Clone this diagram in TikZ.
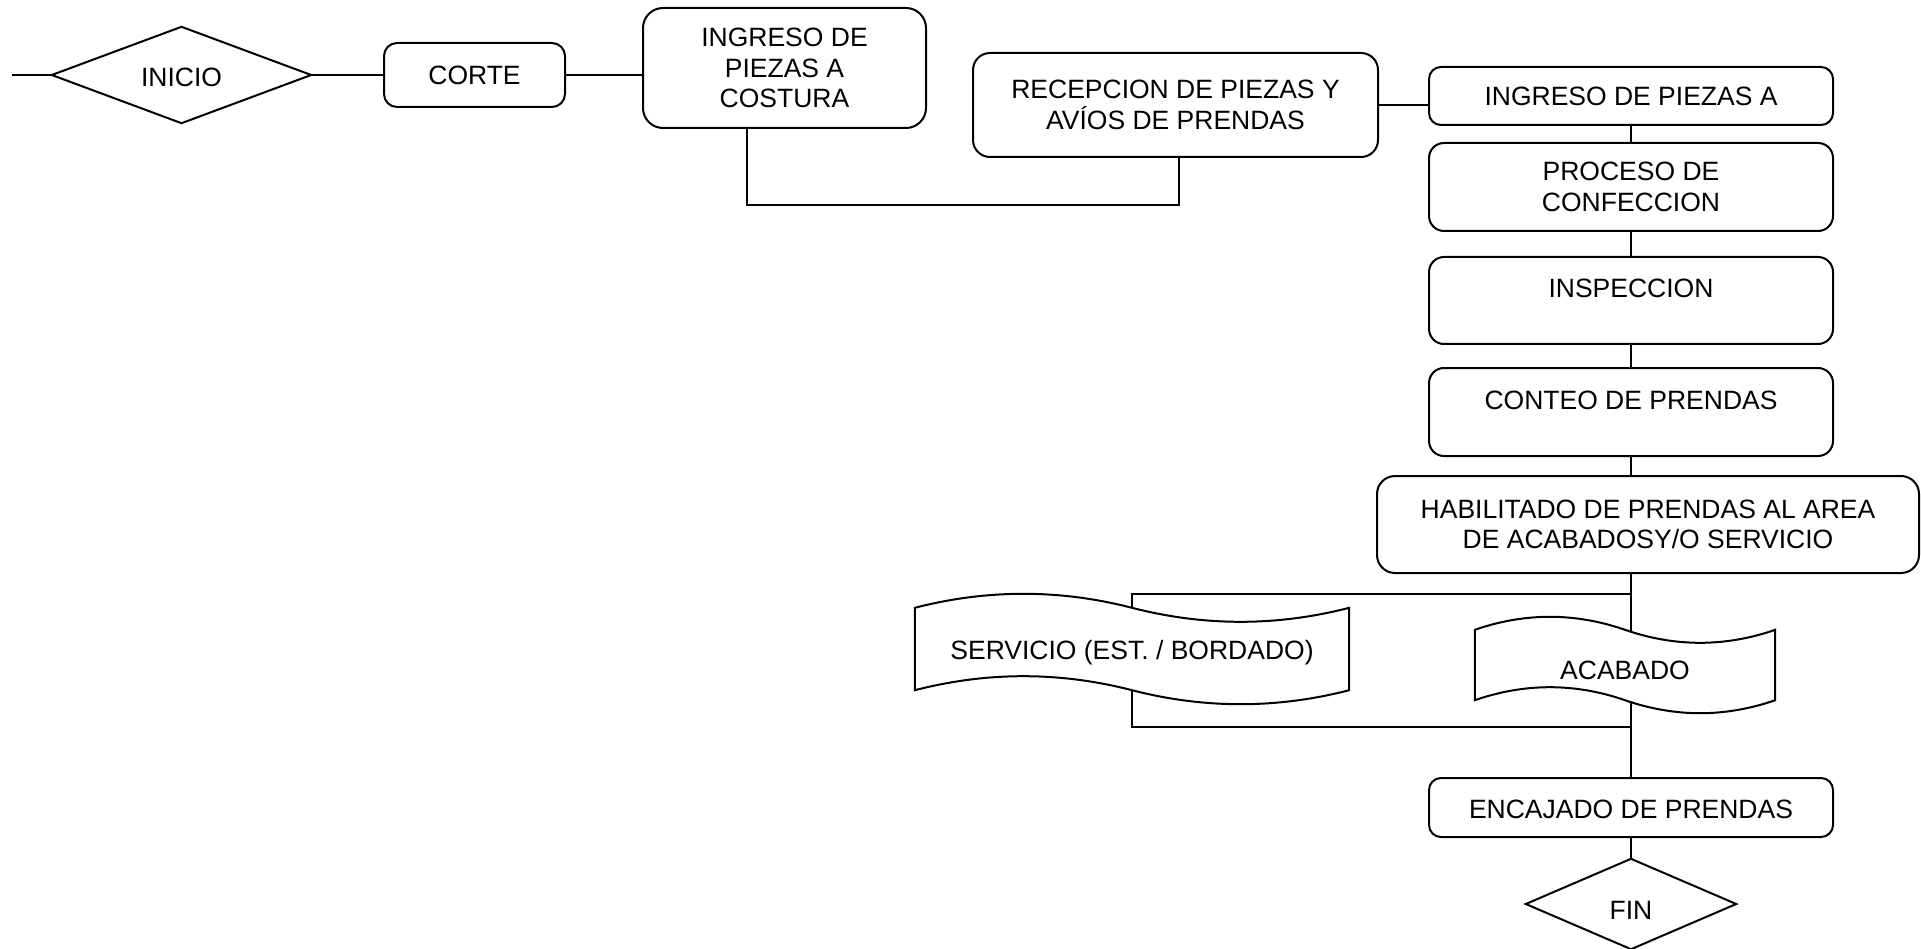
\documentclass[tikz,border=0pt]{standalone}
\usepackage{fontspec}
\setmainfont{Liberation Sans}
\usetikzlibrary{calc}
\pgfdeclarelayer{bg}
\pgfdeclarelayer{mid}
\pgfsetlayers{bg,mid,main}

\tikzset{
  flow/.style={line width=2pt, draw=black},
  procbox/.style={flow, rounded corners=#1, fill=white, inner sep=0pt, align=center},
  procbox/.default=15pt,
  tiptext/.style={inner sep=0pt, align=center},
  tapeline/.style={flow, fill=white},
}

% wavy (tape) outline around a named node: #1 node, #2 wave amplitude in pt
\newcommand\wavyoutline[2]{%
  \path[tapeline] let \p1=(#1.north west), \p2=(#1.south east),
    \n1={(\x2-\x1)/6}, \n2={4*#2/3} in
    (\x1,\y1)
    .. controls ({\x1+\n1*1pt},{\y1+\n2*1pt}) and ({\x1+2*\n1*1pt},{\y1+\n2*1pt}) .. ({\x1+3*\n1*1pt},\y1)
    .. controls ({\x1+4*\n1*1pt},{\y1-\n2*1pt}) and ({\x1+5*\n1*1pt},{\y1-\n2*1pt}) .. (\x2,\y1)
    -- (\x2,\y2)
    .. controls ({\x1+5*\n1*1pt},{\y2-\n2*1pt}) and ({\x1+4*\n1*1pt},{\y2-\n2*1pt}) .. ({\x1+3*\n1*1pt},\y2)
    .. controls ({\x1+2*\n1*1pt},{\y2+\n2*1pt}) and ({\x1+\n1*1pt},{\y2+\n2*1pt}) .. (\x1,\y2)
    -- cycle;}

\begin{document}
\begin{tikzpicture}[x=1pt, y=-1pt, font=\fontsize{26.5pt}{30.5pt}\selectfont]
\useasboundingbox (0,0) rectangle (1921,949);

% process steps
\node[tiptext, minimum width=259pt, minimum height=96pt, text height=23pt] (inicio) at (181.5,75) {INICIO};
\node[procbox=13pt, minimum width=181pt, minimum height=64pt] (corte) at (474.5,75) {CORTE};
\node[procbox=20pt, minimum width=283pt, minimum height=120pt] (costura) at (784.5,68) {INGRESO DE\\PIEZAS A\\COSTURA};
\node[procbox=17pt, minimum width=405pt, minimum height=104pt] (recep) at (1175.5,105) {RECEPCION DE PIEZAS Y\\AVÍOS DE PRENDAS};
\node[procbox=12pt, minimum width=404pt, minimum height=58pt] (ingA) at (1631,96) {INGRESO DE PIEZAS A};
\node[procbox=15pt, minimum width=404pt, minimum height=88pt] (proc) at (1631,187) {PROCESO DE\\CONFECCION};
\node[procbox=15pt, minimum width=404pt, minimum height=87pt, text depth=24pt] (insp) at (1631,300.5) {INSPECCION};
\node[procbox=15pt, minimum width=404pt, minimum height=88pt, text depth=24pt] (conteo) at (1631,412) {CONTEO DE PRENDAS};
\node[procbox=18pt, minimum width=542pt, minimum height=97pt] (habil) at (1648,524.5) {HABILITADO DE PRENDAS AL AREA\\DE ACABADOSY/O SERVICIO};
\node[tiptext, minimum width=434pt, minimum height=82pt, text height=27pt] (serv) at (1132,649) {SERVICIO (EST. / BORDADO)};
\node[tiptext, minimum width=300pt, minimum height=70pt, text height=29pt] (acab) at (1625,665) {ACABADO};
\node[procbox=12pt, minimum width=404pt, minimum height=59pt, text height=23pt] (encaj) at (1631,807.5) {ENCAJADO DE PRENDAS};
\node[tiptext, minimum width=210pt, minimum height=90pt, text height=31pt] (fin) at (1631,904) {FIN};

\coordinate (lead) at (12,75);
\coordinate (split) at (1631,594);
\coordinate (merge) at (1631,727);

% connectors, kept behind the boxes
\begin{pgfonlayer}{bg}
\draw[flow] (lead) -- (inicio.west);
\draw[flow] (inicio.east) -- (corte.west);
\draw[flow] (corte.east) -- (corte.east -| costura.west);
\draw[flow] ([xshift=-37.5pt]costura.south) -- ++(0,76) -| ([xshift=3.5pt]recep.south);
\draw[flow] (recep.east) -- (recep.east -| ingA.west);
\draw[flow] (ingA.south) -- (proc.north);
\draw[flow] (proc.south) -- (insp.north);
\draw[flow] (insp.south) -- (conteo.north);
\draw[flow] (conteo.south) -- (conteo.south |- habil.north);
\draw[flow] (conteo.south |- habil.south) -- (encaj.north);
\draw[flow] (encaj.south) -- (fin.north);
\draw[flow] (split) -| (serv.north) -- (serv.south) |- (merge);
\end{pgfonlayer}

% wavy document outlines
\begin{pgfonlayer}{mid}
\wavyoutline{serv}{14}
\wavyoutline{acab}{13}
\end{pgfonlayer}

% start and end diamonds
\draw[flow] (inicio.west) -- (inicio.north) -- (inicio.east) -- (inicio.south) -- cycle;
\draw[flow] (fin.west) -- (fin.north) -- (fin.east) -- (fin.south) -- cycle;
\end{tikzpicture}
\end{document}
